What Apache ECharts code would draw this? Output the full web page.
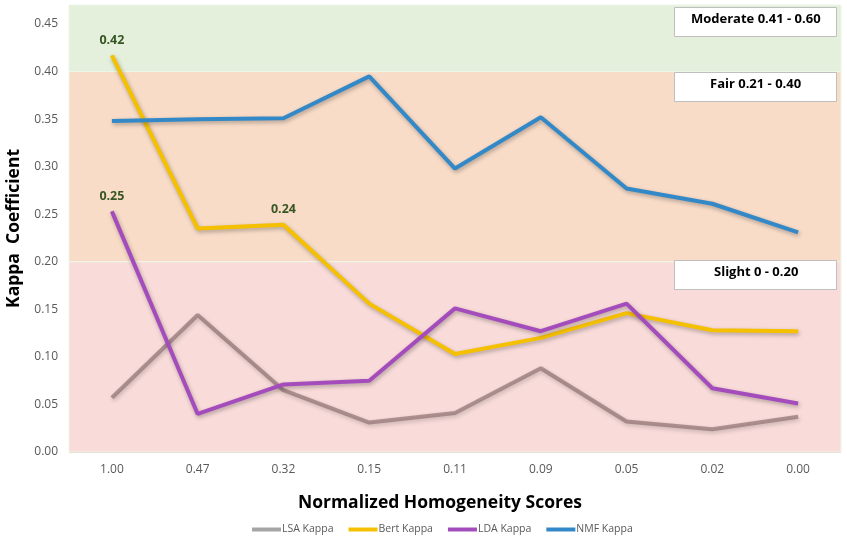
<!DOCTYPE html>
<html>
<head>
<meta charset="utf-8">
<script src="https://cdn.jsdelivr.net/npm/echarts@6/dist/echarts.min.js"></script>
<style>html,body{margin:0;padding:0;background:#fff}#c{width:847px;height:540px}</style>
</head>
<body>
<div id="c"></div>
<script>
const categories = ['1.00','0.47','0.32','0.15','0.11','0.09','0.05','0.02','0.00'];
const lsaKappa  = [0.057, 0.144, 0.065, 0.031, 0.041, 0.088, 0.032, 0.024, 0.037];
const bertKappa = [0.417, 0.235, 0.239, 0.156, 0.103, 0.120, 0.146, 0.128, 0.127];
const ldaKappa  = [0.253, 0.040, 0.071, 0.075, 0.151, 0.127, 0.156, 0.067, 0.051];
const nmfKappa  = [0.348, 0.350, 0.351, 0.395, 0.298, 0.352, 0.277, 0.261, 0.231];
const seriesNames = ['LSA Kappa','Bert Kappa','LDA Kappa','NMF Kappa'];
const labelledPoints = { 'Bert Kappa': [0, 2], 'LDA Kappa': [0] };
const bands = [
  { from: 0.40, to: 0.47, color: '#e4f0db' },
  { from: 0.20, to: 0.40, color: '#f8dcc8' },
  { from: 0.00, to: 0.20, color: '#f9dcda' }
];
const bandLabels = ['Moderate 0.41 - 0.60', 'Fair 0.21 - 0.40', 'Slight 0 - 0.20'];
const yMax = 0.47;

const FONT = '"Open Sans", "Noto Sans", sans-serif';
const chart = echarts.init(document.getElementById('c'), null, { renderer: 'canvas' });

function mkSeries(name, data, color, lineColor) {
  const idx = labelledPoints[name] || [];
  return {
    name, type: 'line', symbol: 'none', data: data.map((v, i) => idx.includes(i) ? {
      value: v, symbol: 'circle', symbolSize: 1,
      label: { show: true, position: 'top', distance: 8, formatter: p => p.value.toFixed(2),
        color: '#375623', fontWeight: 'bold', fontSize: 12.5, fontFamily: FONT }
    } : v),
    itemStyle: { color },
    lineStyle: { color: lineColor || color, width: 4, shadowBlur: 4, shadowColor: 'rgba(0,0,0,0.3)', shadowOffsetY: 2, shadowOffsetX: 1 },
    z: 3
  };
}

const measureCtx = document.createElement('canvas').getContext('2d');
measureCtx.font = 'bold 13px ' + FONT;
const boxTops = [7, 72, 260];
const graphicEls = [];
bandLabels.forEach((t, i) => {
  const w = measureCtx.measureText(t).width;
  graphicEls.push({
    type: 'rect', left: 674, top: boxTops[i], z: 100,
    shape: { width: 162, height: 29 },
    style: { fill: '#ffffff', stroke: '#bfbfbf', lineWidth: 1 }
  });
  graphicEls.push({
    type: 'text', left: Math.round(756 - w / 2), top: boxTops[i] + 6, z: 101,
    style: { text: t, fill: '#000000', fontSize: 13, fontWeight: 'bold', fontFamily: FONT }
  });
});

const option = {
  animation: false,
  grid: { left: 69, right: 6, top: 5, bottom: 88, containLabel: false, outerBoundsMode: 'none' },
  xAxis: {
    type: 'category', data: categories, boundaryGap: true,
    axisLine: { show: false }, axisTick: { show: false },
    axisLabel: { color: '#595959', fontSize: 12, fontFamily: FONT, margin: 12 },
    name: 'Normalized Homogeneity Scores', nameLocation: 'middle', nameGap: 42,
    nameTextStyle: { color: '#000', fontSize: 17.5, fontWeight: 'bold', fontFamily: FONT, padding: [0, 30, 0, 0] }
  },
  yAxis: {
    type: 'value', min: 0, max: yMax, interval: 0.05,
    axisLine: { show: false }, axisTick: { show: false },
    axisLabel: { color: '#595959', fontSize: 12, fontFamily: FONT, margin: 11, showMaxLabel: false,
      formatter: v => (Math.abs(v - yMax) < 1e-9 ? '' : v.toFixed(2)) },
    splitLine: { show: true, showMaxLine: false, lineStyle: { color: 'rgba(160,110,90,0.35)', width: 1 } },
    name: 'Kappa  Coefficient', nameLocation: 'middle', nameGap: 46, nameRotate: 90,
    nameTextStyle: { color: '#000', fontSize: 17.5, fontWeight: 'bold', fontFamily: FONT }
  },
  legend: {
    bottom: 0, left: 247, itemWidth: 29, itemHeight: 4, itemGap: 15, icon: 'rect',
    data: seriesNames,
    textStyle: { color: '#595959', fontSize: 10.5, fontFamily: FONT, padding: [0, 0, 0, -4] }
  },
  graphic: graphicEls,
  series: [
    {
      name: 'bands', type: 'line', data: [], z: -1, silent: true,
      markArea: {
        silent: true,
        data: bands.map(b => [
          { yAxis: b.from, itemStyle: { color: b.color, borderColor: '#eef6e8', borderWidth: 1 } },
          { yAxis: b.to }
        ])
      }
    },
    mkSeries('LSA Kappa', lsaKappa, '#a5a5a5', 'rgba(138,108,108,0.66)'),
    mkSeries('Bert Kappa', bertKappa, '#f5c000'),
    mkSeries('LDA Kappa', ldaKappa, '#a54cbd'),
    mkSeries('NMF Kappa', nmfKappa, '#3389c8')
  ]
};
chart.setOption(option);
</script>
</body>
</html>
